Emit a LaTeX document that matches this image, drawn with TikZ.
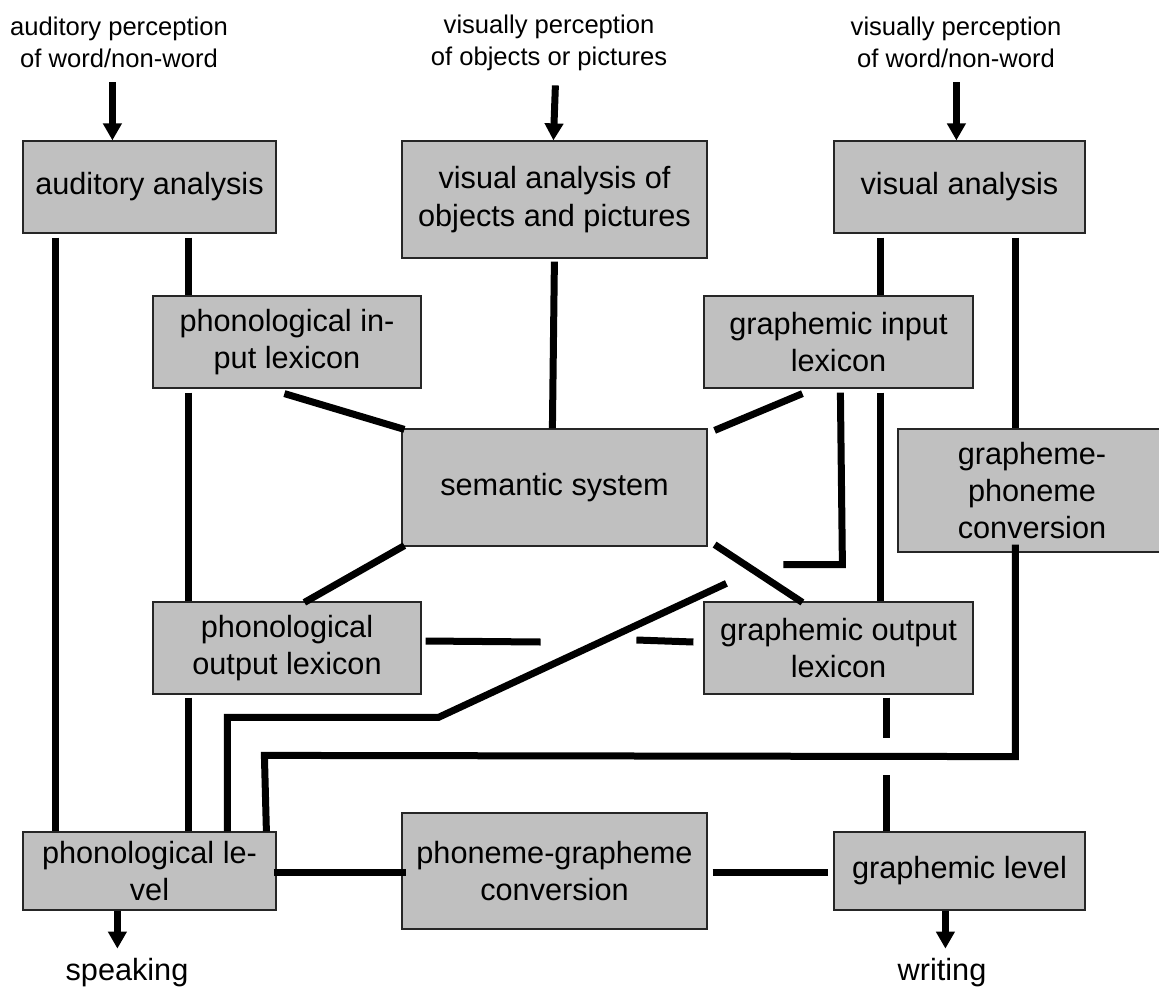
\documentclass[tikz,border=0pt]{standalone}
\usepackage{fontspec}
\setmainfont{Liberation Sans}
\usetikzlibrary{calc,arrows.meta}
\definecolor{boxgray}{HTML}{C0C0C0}
\newcommand\boxfont{\fontsize{23}{28}\selectfont}
\newcommand\lblfont{\fontsize{19.2}{24}\selectfont}
\begin{document}
\begin{tikzpicture}[x=0.75pt,y=-0.75pt,
  box/.style n args={2}{draw=black!85, line width=0.9pt, fill=boxgray,
    minimum width=#1*0.75pt, minimum height=#2*0.75pt, inner sep=0pt,
    align=center, font=\boxfont},
  link/.style={line width=5.25pt, line cap=butt},
  arr/.style={line width=5.25pt, -{Triangle[width=13.5pt,length=12.75pt]}},
  lbl/.style={align=center, font=\lblfont, inner sep=0pt}]
\useasboundingbox (0,0) rectangle (1159,988);
\clip (0,0) rectangle (1159,988);

% boxes
\node[box={253}{92}]  (aa)  at (149.5,187)   {auditory analysis};
\node[box={305}{117}] (vo)  at (554.5,199.5) {visual analysis of\\objects and pictures};
\node[box={251}{92}]  (va)  at (959.5,187)   {visual analysis};
\node[box={268}{92}]  (pil) at (287,342)     {phonological in-\\put lexicon};
\node[box={269}{92}]  (gil) at (838.5,342)   {graphemic input\\lexicon};
\node[box={305}{117}] (sem) at (554.5,487.5) {semantic system};
\node[box={268}{123}] (gpc) at (1032,490.5)  {grapheme-\\phoneme\\conversion};
\node[box={268}{92}]  (pol) at (287,648)     {phonological\\output lexicon};
\node[box={269}{92}]  (gol) at (838.5,648)   {graphemic output\\lexicon};
\node[box={253}{78}]  (pl)  at (149.5,871)   {phonological le-\\vel};
\node[box={305}{116}] (pgc) at (554.5,871)   {phoneme-grapheme\\conversion};
\node[box={251}{78}]  (gl)  at (959.5,871)   {graphemic level};

% inputs and outputs
\node[lbl] (in1) at (119,42) {auditory perception\\of word/non-word};
\node[lbl] (in2) at (549,43) {visually perception\\of objects or pictures};
\node[lbl] (in3) at (956,42) {visually perception\\of word/non-word};
\node[font=\boxfont, anchor=base, inner sep=0pt] (sp) at (127,980) {speaking};
\node[font=\boxfont, anchor=base, inner sep=0pt] (wr) at (942,980) {writing};

\draw[arr] ($(aa.north west)+(90,-58)$) -- ($(aa.north west)+(90,0)$);
\draw[arr] ($(vo.north west)+(154,-55)$) -- ($(vo.north west)+(152,0)$);
\draw[arr] ($(va.north west)+(123,-58)$) -- ($(va.north west)+(123,0)$);
\draw[arr] ($(pl.south west)+(95,0)$) -- ($(pl.south west)+(95,38)$);
\draw[arr] ($(gl.south west)+(112,0)$) -- ($(gl.south west)+(112,38)$);

% routes
\draw[link] ($(aa.south west)+(33,4)$) -- ($(pl.north west)+(33,0)$);
\draw[link] ($(aa.south west)+(166,4)$) -- ($(pil.north west)+(36,0)$);
\draw[link] ($(pil.south west)+(36,4)$) -- ($(pol.north west)+(36,0)$);
\draw[link] ($(pol.south west)+(36,3)$) -- ($(pl.north west)+(166,0)$);
\draw[link] ($(pil.south west)+(132,5)$) -- ($(sem.north west)+(3,1)$);
\draw[link] ($(sem.south west)+(3,-1)$) -- ($(pol.north west)+(152,1)$);
\draw[link] ($(vo.south west)+(153,3)$) -- ($(sem.north west)+(151,0)$);
\draw[link] ($(sem.north east)+(7,2)$) -- ($(gil.south west)+(99,5)$);
\draw[link] ($(gil.south west)+(137,4)$) -- ++(2,172) -- ++(-59,0);
\draw[link] ($(gil.south west)+(177,4)$) -- ($(gol.north west)+(177,0)$);
\draw[link] ($(sem.south east)+(7,-2)$) -- ($(gol.north west)+(99,1)$);
\draw[link] ($(va.south west)+(47,4)$) -- ($(gil.north west)+(177,0)$);
\draw[link] ($(va.south west)+(182,4)$) -- ($(gpc.north west)+(118,0)$);
\draw[link] ($(gpc.south west)+(118,-8)$) -- ($(gpc.south west)+(118,204)$)
  -- ($(pl.north west)+(242,-76)$) -- ($(pl.north west)+(244,0)$);
\draw[link] ($(gol.north west)+(23,-18)$) -- ($(pl.north west)+(416,-114)$)
  -- ($(pl.north west)+(205,-114)$) -- ($(pl.north west)+(205,0)$);
\draw[link] ($(pol.east)+(4,-7)$) -- ++(115,1);
\draw[link] ($(gol.west)+(-67,-8)$) -- ($(gol.west)+(-10,-6)$);
\draw[link] ($(gol.south west)+(183,3)$) -- ++(0,40);
\draw[link] ($(gl.north west)+(53,-56)$) -- ($(gl.north west)+(53,0)$);
\draw[link] ($(pl.east)+(-3,1)$) -- ($(pgc.west)+(5,1)$);
\draw[link] ($(pgc.east)+(5,1)$) -- ($(gl.west)+(-5,1)$);
\end{tikzpicture}
\end{document}
